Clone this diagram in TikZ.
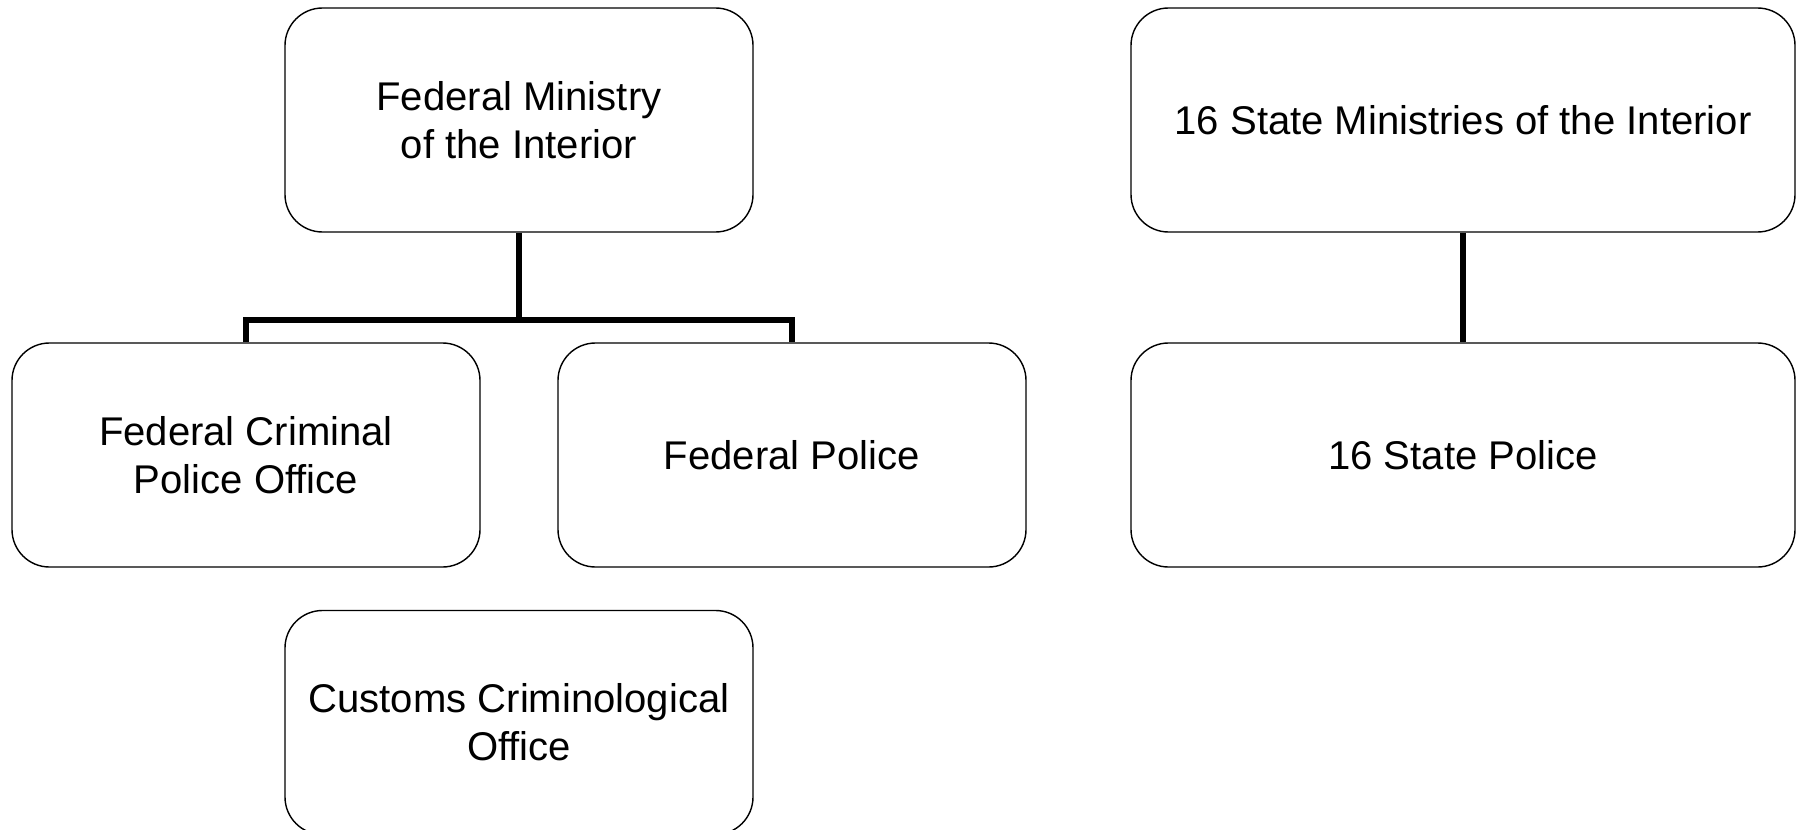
\documentclass[tikz,border=0pt]{standalone}
\usepackage{fontspec}
\setmainfont{Liberation Sans}
\tikzset{
	orgbox/.style={draw, line width=0.8pt, rounded corners=0.75cm, minimum width=9.36cm, minimum height=4.48cm, align=center, font=\fontsize{22.8}{27.3}\selectfont},
	link/.style={line width=3.4pt}
}
\begin{document}
\begin{tikzpicture}
	\useasboundingbox (0,0) rectangle (36,-16.6);
	\node[orgbox] (fedmin) at (10.38,-2.4) {Federal Ministry\\of the Interior};
	\node[orgbox] (bka) at (4.92,-9.1) {Federal Criminal\\Police Office};
	\node[orgbox] (bpol) at (15.84,-9.1) {Federal Police};
	\node[orgbox] (zka) at (10.38,-14.45) {Customs Criminological\\Office};
	\node[orgbox, minimum width=13.28cm] (statemin) at (29.26,-2.4) {16 State Ministries of the Interior};
	\node[orgbox, minimum width=13.28cm] (statepol) at (29.26,-9.1) {16 State Police};
	
	\coordinate (bus) at (10.38,-6.4);
	\draw[link] (fedmin.south) -- (bus);
	\draw[link] (bka.north) |- (bus) -| (bpol.north);
	\draw[link] (statemin.south) -- (statepol.north);
\end{tikzpicture}
\end{document}
